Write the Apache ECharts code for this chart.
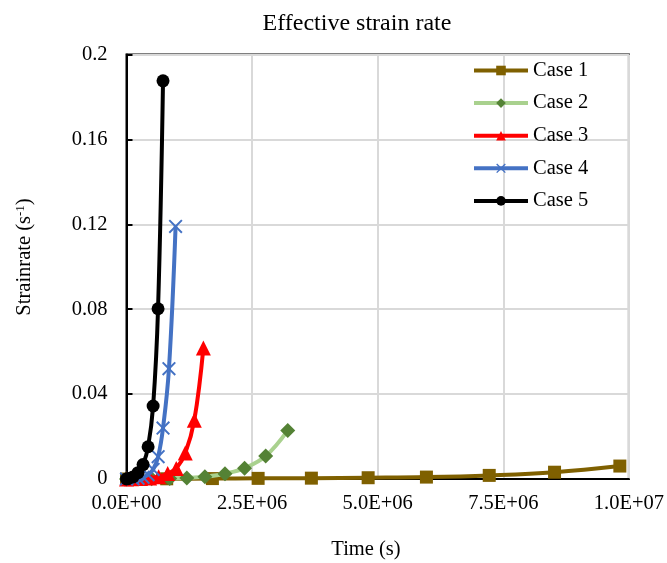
<!DOCTYPE html>
<html>
<head>
<meta charset="utf-8">
<script src="https://cdn.jsdelivr.net/npm/echarts@6/dist/echarts.min.js"></script>
<style>
  html, body { margin: 0; padding: 0; background: #fff; }
  #chart { width: 667px; height: 563px; }
</style>
</head>
<body>
<div id="chart"></div>
<script>
// Effective strain rate vs. time for five cases
const seriesNames = ['Case 1', 'Case 2', 'Case 3', 'Case 4', 'Case 5'];

const case1Time = [0, 0.8e6, 1.71e6, 2.62e6, 3.68e6, 4.81e6, 5.97e6, 7.22e6, 8.52e6, 9.82e6];
const case1Rate = [0, 0.0001, 0.0002, 0.0003, 0.0004, 0.0006, 0.0009, 0.0017, 0.0032, 0.0061];

const case2Time = [0, 0.5e6, 0.86e6, 1.2e6, 1.56e6, 1.96e6, 2.35e6, 2.77e6, 3.21e6];
const case2Rate = [0, 0.0001, 0.0002, 0.0005, 0.0011, 0.0025, 0.0051, 0.0108, 0.0229];

const case3Time = [0, 0.1e6, 0.28e6, 0.46e6, 0.64e6, 0.82e6, 0.99e6, 1.17e6, 1.35e6, 1.53e6];
const case3Rate = [0, 0.0001, 0.0002, 0.0005, 0.0011, 0.0026, 0.005, 0.0122, 0.0277, 0.0617];

const case4Time = [0, 0.13e6, 0.23e6, 0.33e6, 0.43e6, 0.53e6, 0.63e6, 0.727e6, 0.845e6, 0.977e6];
const case4Rate = [0, 0.0001, 0.0003, 0.0008, 0.002, 0.0045, 0.0105, 0.024, 0.052, 0.119];

const case5Time = [0, 0.03e6, 0.13e6, 0.23e6, 0.33e6, 0.43e6, 0.53e6, 0.628e6, 0.727e6];
const case5Rate = [0, 0.0002, 0.001, 0.003, 0.0068, 0.0152, 0.0344, 0.0802, 0.1876];

const xTicks = { min: 0, max: 1e7, step: 2.5e6 };
const yTicks = { min: 0, max: 0.2, step: 0.04 };

const FONT = '"Liberation Serif", "Times New Roman", serif';

function pairs(xs, ys) {
  return xs.map((x, i) => [x, ys[i]]);
}

function sciLabel(v) {
  // 2.5E+06 style
  const s = Number(v).toExponential(1);
  const m = s.split('e');
  const exp = parseInt(m[1], 10);
  const sign = exp < 0 ? '-' : '+';
  const e = String(Math.abs(exp)).padStart(2, '0');
  return m[0] + 'E' + sign + e;
}

const crossPath = 'path://M0,1L1,0L5,4L9,0L10,1L6,5L10,9L9,10L5,6L1,10L0,9L4,5Z';

const styles = [
  { line: '#7F6000', mark: '#7F6000', symbol: 'rect', size: 13 },
  { line: '#A9D18E', mark: '#548235', symbol: 'diamond', size: 15 },
  { line: '#FF0000', mark: '#FF0000', symbol: 'triangle', size: 15 },
  { line: '#4472C4', mark: '#4472C4', symbol: crossPath, size: 14 },
  { line: '#000000', mark: '#000000', symbol: 'circle', size: 13 }
];

const dataSets = [
  pairs(case1Time, case1Rate),
  pairs(case2Time, case2Rate),
  pairs(case3Time, case3Rate),
  pairs(case4Time, case4Rate),
  pairs(case5Time, case5Rate)
];

const series = seriesNames.map((name, i) => ({
  name: name,
  type: 'line',
  data: dataSets[i],
  smooth: 0.4,
  clip: false,
  symbol: styles[i].symbol,
  symbolSize: styles[i].size,
  showAllSymbol: true,
  lineStyle: { color: styles[i].line, width: 4 },
  itemStyle: { color: styles[i].mark, borderWidth: 0 },
  emphasis: { disabled: true },
  z: 2 + i
}));

const chart = echarts.init(document.getElementById('chart'), null, { renderer: 'canvas' });

chart.setOption({
  animation: false,
  backgroundColor: '#ffffff',
  textStyle: { fontFamily: FONT },
  title: {
    text: 'Effective strain rate',
    left: 352,
    top: 7,
    textAlign: 'center',
    textStyle: { fontFamily: FONT, fontSize: 24, fontWeight: 'normal', color: '#000' }
  },
  grid: {
    left: 126.5,
    right: 34,
    top: 54.5,
    bottom: 84,
    show: true,
    borderColor: '#000',
    borderWidth: 2,
    backgroundColor: 'transparent'
  },
  legend: {
    data: seriesNames,
    orient: 'vertical',
    left: 467,
    top: 55,
    itemWidth: 54,
    itemHeight: 12,
    itemGap: 11.6,
    lineStyle: { width: 4 },
    textStyle: { fontFamily: FONT, fontSize: 20.5, color: '#000', lineHeight: 19 }
  },
  xAxis: {
    type: 'value',
    min: xTicks.min,
    max: xTicks.max,
    interval: xTicks.step,
    axisLine: { show: true, lineStyle: { color: '#000', width: 2 } },
    axisTick: { show: false },
    splitLine: { show: true, lineStyle: { color: '#D9D9D9', width: 2 } },
    axisLabel: {
      formatter: sciLabel,
      margin: 14,
      fontFamily: FONT,
      fontSize: 20.5,
      color: '#000'
    }
  },
  yAxis: {
    type: 'value',
    min: yTicks.min,
    max: yTicks.max,
    interval: yTicks.step,
    axisLine: { show: true, lineStyle: { color: '#000', width: 2 } },
    axisTick: { show: true, inside: true, length: 6, lineStyle: { color: '#000', width: 2 } },
    splitLine: { show: true, lineStyle: { color: '#D9D9D9', width: 2 } },
    axisLabel: {
      formatter: v => String(+Number(v).toFixed(2)),
      margin: 19,
      fontFamily: FONT,
      fontSize: 20.5,
      color: '#000'
    }
  },
  graphic: [
    {
      type: 'text',
      x: 366,
      y: 550,
      style: {
        text: 'Time (s)',
        font: '20.5px ' + FONT,
        fill: '#000',
        align: 'center',
        verticalAlign: 'middle'
      }
    },
    {
      type: 'text',
      x: 25,
      y: 257,
      rotation: Math.PI / 2,
      style: {
        text: 'Strainrate (s{sup|-1})',
        font: '20.5px ' + FONT,
        fill: '#000',
        align: 'center',
        verticalAlign: 'middle',
        rich: {
          sup: { fontSize: 13, fontFamily: FONT, fill: '#000', padding: [0, 0, 8, 0] }
        }
      }
    }
  ],
  series: series
});
</script>
</body>
</html>
